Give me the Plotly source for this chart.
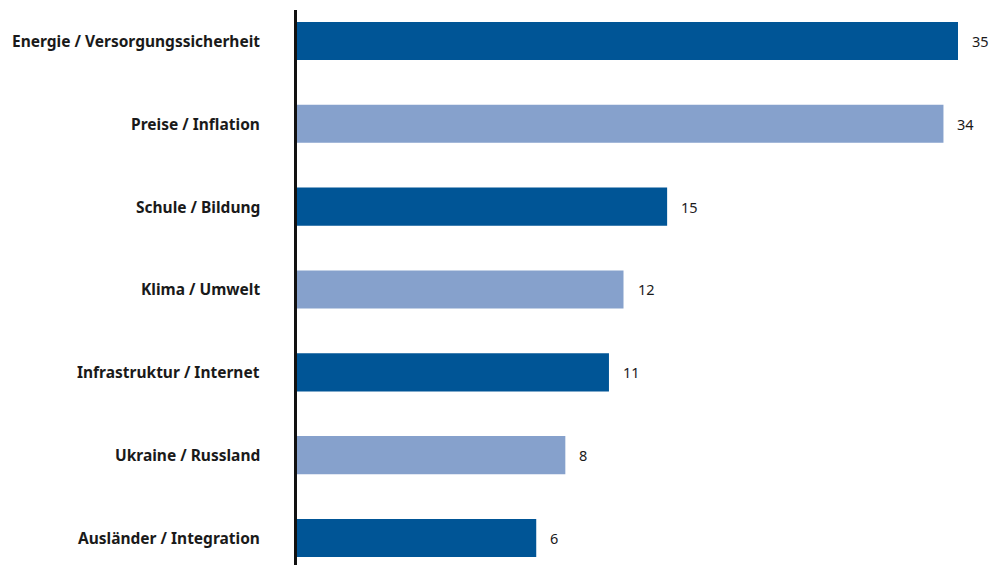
import plotly.graph_objects as go

categories = ["Energie / Versorgungssicherheit", "Preise / Inflation", "Schule / Bildung",
              "Klima / Umwelt", "Infrastruktur / Internet", "Ukraine / Russland",
              "Ausländer / Integration"]
values = [35, 34, 15, 12, 11, 8, 6]
colors = ["#005596", "#86A1CC", "#005596", "#86A1CC", "#005596", "#86A1CC", "#005596"]

X_MIN = -10.45
X_MAX = 37.2

fig = go.Figure()
fig.add_trace(go.Bar(
    y=categories,
    x=[v - X_MIN for v in values],
    base=X_MIN,
    orientation="h",
    marker=dict(color=colors, line=dict(width=0)),
    width=0.46,
    hoverinfo="skip",
))

for c, v in zip(categories, values):
    fig.add_annotation(x=v, y=c, text=str(v), showarrow=False, xanchor="left",
                       xshift=12, font=dict(family="Noto Sans", size=14.5, color="#1a1a1a"))
    fig.add_annotation(x=0, xref="paper", y=c, text="<b>" + c + "</b>", showarrow=False,
                       xanchor="right", xshift=-35,
                       font=dict(family="Noto Sans", size=15.5, color="#1a1a1a"))

fig.update_layout(
    width=990, height=565,
    margin=dict(l=297, r=0, t=10, b=0),
    paper_bgcolor="white", plot_bgcolor="white",
    showlegend=False,
    xaxis=dict(range=[X_MIN, X_MAX], visible=False, fixedrange=True),
    yaxis=dict(categoryorder="array", categoryarray=categories,
               range=[6.326, -0.374], showticklabels=False, ticks="",
               showgrid=False, zeroline=False,
               showline=True, linecolor="#111111", linewidth=2.5, mirror=False),
)

fig.write_html("out.html")
